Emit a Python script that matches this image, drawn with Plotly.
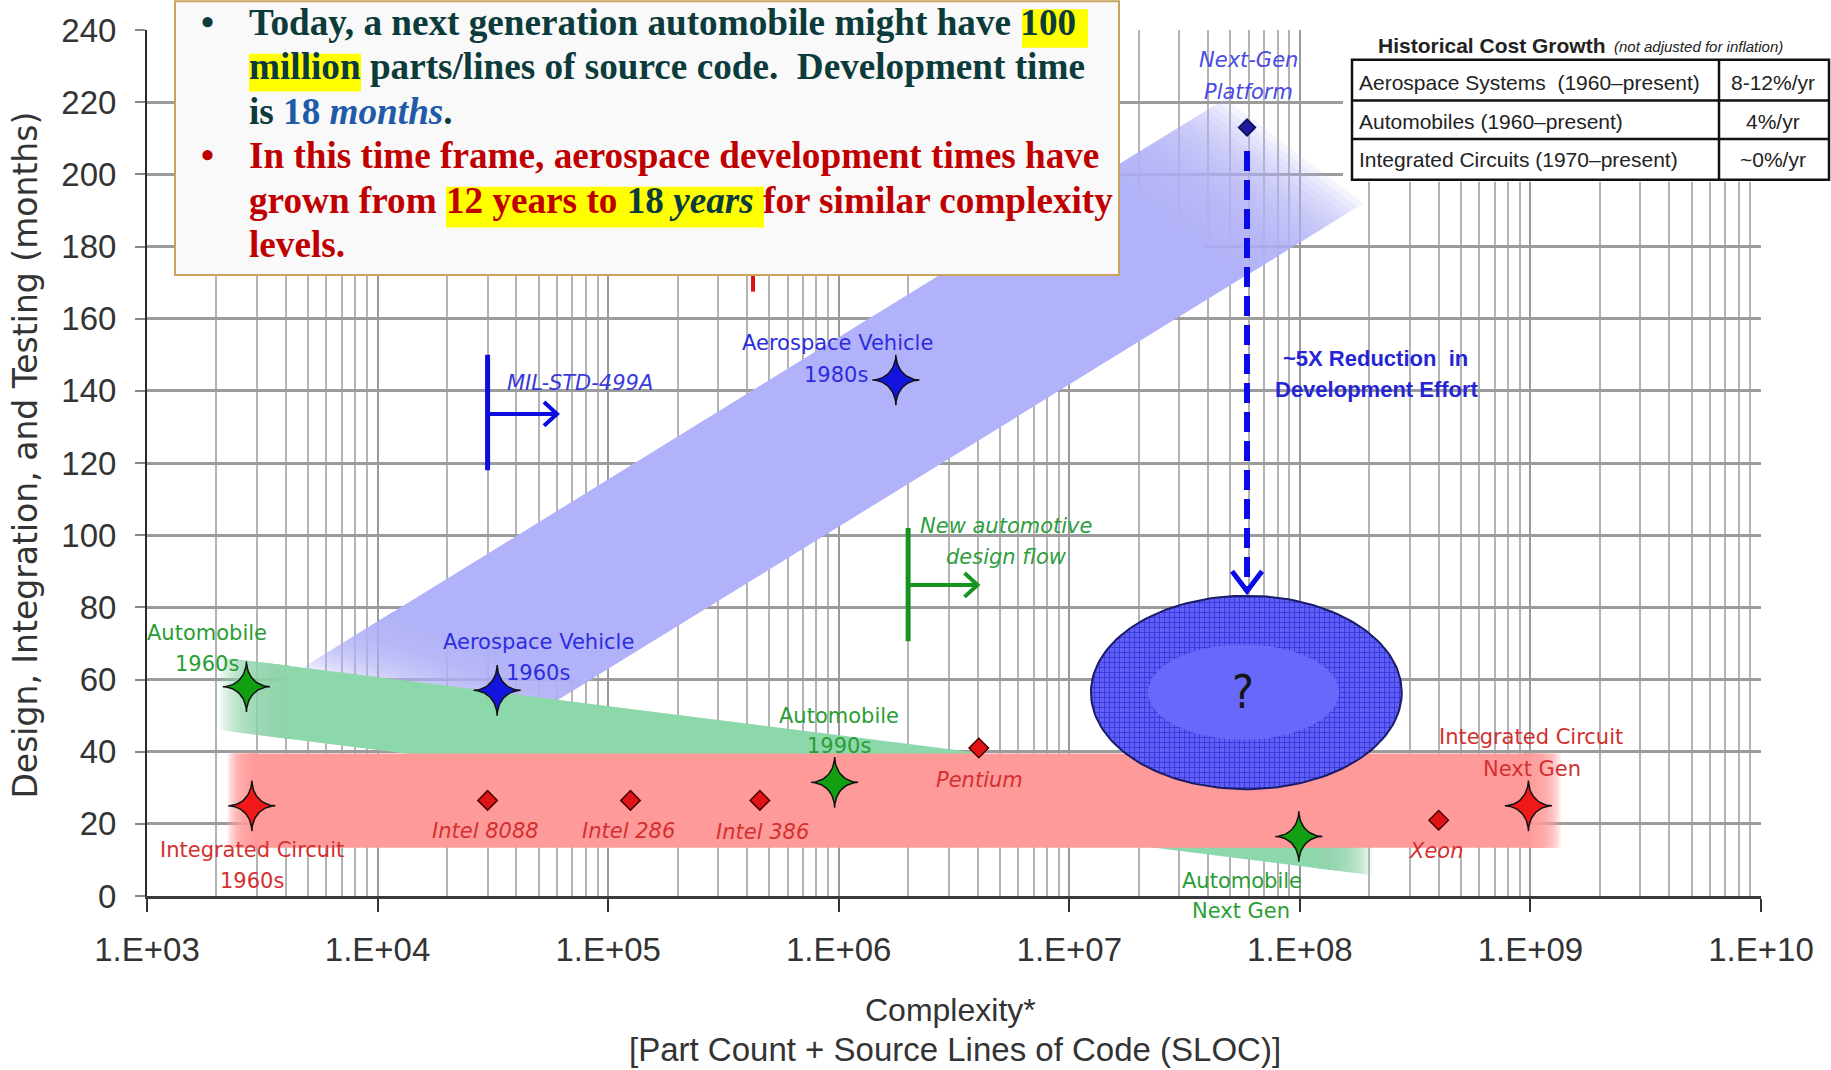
import numpy as np
import plotly.graph_objects as go

# ---------------- data ----------------
x_tick_vals = [1e3, 1e4, 1e5, 1e6, 1e7, 1e8, 1e9, 1e10]
x_tick_text = ["1.E+03", "1.E+04", "1.E+05", "1.E+06", "1.E+07", "1.E+08", "1.E+09", "1.E+10"]
y_tick_vals = [0, 20, 40, 60, 80, 100, 120, 140, 160, 180, 200, 220, 240]

auto_labels = [["Automobile", "1960s"], ["Automobile", "1990s"], ["Automobile", "Next Gen"]]
auto_complexity = [2.7e3, 9.6e5, 9.9e7]
auto_months = [58, 31.5, 16.5]

aero_labels = [["Aerospace Vehicle", "1960s"], ["Aerospace Vehicle", "1980s"]]
aero_complexity = [3.3e4, 1.77e6]
aero_months = [57, 143]

ic_labels = [["Integrated Circuit", "1960s"], ["Integrated Circuit", "Next Gen"]]
ic_complexity = [2.85e3, 9.8e8]
ic_months = [25, 25]

chip_labels = ["Intel 8088", "Intel 286", "Intel 386", "Pentium", "Xeon"]
chip_complexity = [3.0e4, 1.25e5, 4.55e5, 4.05e6, 4.0e8]
chip_months = [26.5, 26.5, 26.5, 41, 21]

platform_labels = [["Next-Gen", "Platform"]]
platform_complexity = [5.9e7]
platform_months = [213]

# trend bands: (complexity, months) at both ends of the upper and lower edges
aero_band_upper = [(4.4e3, 62), (5.06e7, 222)]
aero_band_lower = [(3.3e4, 44), (2.0e8, 193)]
auto_band_upper = [(2.0e3, 66.3), (2.12e8, 25.8)]
auto_band_lower = [(2.0e3, 46.1), (2.12e8, 5.7)]
ic_band_upper = [(2.2e3, 39.5), (1.38e9, 39.5)]
ic_band_lower = [(2.2e3, 13.4), (1.38e9, 13.4)]

# next-generation target region (center, half-width in decades, half-height in months)
target_center = (5.86e7, 56.4)
target_span = (0.674, 26.8)
target_core_center = (5.7e7, 56.5)
target_core_span = (0.414, 13.2)

# process milestones
mil_std_complexity = 3.0e4
mil_std_span = [118, 150]
mil_std_arrow_months = 133.6
mil_std_arrow_end = 6.0e4

auto_flow_complexity = 2.0e6
auto_flow_span = [70.6, 102]
auto_flow_arrow_months = 86.2
auto_flow_arrow_end = 4.0e6

reduction_complexity = 5.9e7
reduction_span = [206.5, 84.5]

legacy_marker_complexity = 4.25e5
legacy_marker_span = [167.5, 185]

table_rows = ["Aerospace Systems  (1960\u2013present)", "Automobiles (1960\u2013present)",
              "Integrated Circuits (1970\u2013present)"]
table_growth = ["8-12%/yr", "4%/yr", "~0%/yr"]

# ---------------- geometry helpers ----------------
W, H = 1831, 1070
M_L, M_R, M_T, M_B = 147, 70, 23, 174
PLOT_W = W - M_L - M_R
PLOT_H = H - M_T - M_B
X_RANGE = (3, 10)
Y_RANGE = (0, 240)
DEC_PER_PX = (X_RANGE[1] - X_RANGE[0]) / PLOT_W
MON_PER_PX = (Y_RANGE[1] - Y_RANGE[0]) / PLOT_H


def px_x(px):
    return (px - M_L) / PLOT_W


def px_y(py):
    return (M_T + PLOT_H - py) / PLOT_H


def shift(x, y, dx, dy):
    """Move a data point by screen pixels (dy positive = downwards)."""
    return x * 10 ** (dx * DEC_PER_PX), y - dy * MON_PER_PX


fig = go.Figure()


def edge_point(edge, t):
    (x0, y0), (x1, y1) = edge
    lx = np.log10(x0) + t * (np.log10(x1) - np.log10(x0))
    return 10 ** lx, y0 + t * (y1 - y0)


def band_piece(upper, lower, t0, t1, color):
    p = [edge_point(upper, t0), edge_point(upper, t1), edge_point(lower, t1), edge_point(lower, t0)]
    p.append(p[0])
    return go.Scatter(x=[q[0] for q in p], y=[q[1] for q in p], mode="lines", fill="toself",
                      fillcolor=color, line=dict(width=0), hoverinfo="skip", showlegend=False)


def add_band(upper, lower, rgb, fade_in, fade_out, layers=20, alpha=0.14):
    soft = "rgba(%d,%d,%d,%.3f)" % (rgb[0], rgb[1], rgb[2], alpha)
    for k in range(1, layers + 1):
        if fade_in > 0:
            fig.add_trace(band_piece(upper, lower, fade_in * k / (layers + 1), fade_in + 0.004, soft))
        if fade_out > 0:
            fig.add_trace(band_piece(upper, lower, 1 - fade_out - 0.004,
                                     1 - fade_out * k / (layers + 1), soft))
    fig.add_trace(band_piece(upper, lower, fade_in, 1 - fade_out, "rgb(%d,%d,%d)" % tuple(rgb)))


def ellipse_pts(center, span, n=180):
    th = np.linspace(0, 2 * np.pi, n)
    lx = np.log10(center[0]) + span[0] * np.cos(th)
    return 10 ** lx, center[1] + span[1] * np.sin(th)


def star_trace(xs, ys, fill, half_w=23.5, half_h=25.5, p=3.6):
    th = np.linspace(0, 2 * np.pi, 121)
    c, s = np.cos(th), np.sin(th)
    dx = half_w * np.sign(c) * np.abs(c) ** p
    dy = half_h * np.sign(s) * np.abs(s) ** p
    X, Y = [], []
    for x, y in zip(xs, ys):
        X += list(x * 10 ** (dx * DEC_PER_PX)) + [None]
        Y += list(y + dy * MON_PER_PX) + [None]
    return go.Scatter(x=X, y=Y, mode="lines", fill="toself", fillcolor=fill,
                      line=dict(color="#111111", width=1.5), hoverinfo="skip", showlegend=False)


def seg(xs, ys, color, width, dash=None):
    fig.add_trace(go.Scatter(x=xs, y=ys, mode="lines", hoverinfo="skip", showlegend=False,
                             line=dict(color=color, width=width, dash=dash)))


def chevron(tip_x, tip_y, direction, color, width, back=13, spread=12):
    if direction == "right":
        a = shift(tip_x, tip_y, -back, -spread)
        b = shift(tip_x, tip_y, -back, spread)
    else:  # pointing down
        a = shift(tip_x, tip_y, -spread, -back)
        b = shift(tip_x, tip_y, spread, -back)
    seg([a[0], tip_x, b[0]], [a[1], tip_y, b[1]], color, width)


# ---------------- bands ----------------
add_band(aero_band_upper, aero_band_lower, (178, 178, 250), 0.10, 0.14)
add_band(auto_band_upper, auto_band_lower, (140, 216, 170), 0.06, 0.05)
add_band(ic_band_upper, ic_band_lower, (255, 154, 154), 0.02, 0.025)

# ---------------- target region ----------------
ex, ey = ellipse_pts(target_center, target_span)
fig.add_trace(go.Scatter(
    x=ex, y=ey, mode="lines", fill="toself", fillcolor="rgb(84,84,240)",
    fillpattern=dict(shape="+", size=5, solidity=0.3, fgcolor="rgb(52,52,212)",
                     bgcolor="rgb(96,96,248)", fillmode="replace"),
    line=dict(color="#1b1b66", width=2), hoverinfo="skip", showlegend=False))
cx, cy = ellipse_pts(target_core_center, target_core_span)
fig.add_trace(go.Scatter(x=cx, y=cy, mode="lines", fill="toself", fillcolor="rgb(104,104,250)",
                         line=dict(width=0), hoverinfo="skip", showlegend=False))

# ---------------- milestones ----------------
BLUE_LINE = "#0c0cdc"
GREEN_LINE = "#16941f"
seg([mil_std_complexity] * 2, mil_std_span, BLUE_LINE, 5)
seg([mil_std_complexity, mil_std_arrow_end], [mil_std_arrow_months] * 2, BLUE_LINE, 4)
chevron(mil_std_arrow_end, mil_std_arrow_months, "right", BLUE_LINE, 4)

seg([auto_flow_complexity] * 2, auto_flow_span, GREEN_LINE, 5)
seg([auto_flow_complexity, auto_flow_arrow_end], [auto_flow_arrow_months] * 2, GREEN_LINE, 4)
chevron(auto_flow_arrow_end, auto_flow_arrow_months, "right", GREEN_LINE, 4)

seg([reduction_complexity] * 2, reduction_span, "#0a0ae6", 6, dash="20px,9px")
chevron(reduction_complexity, reduction_span[1], "down", "#0a0ae6", 5, back=20, spread=15)

seg([legacy_marker_complexity] * 2, legacy_marker_span, "#e01010", 4)

# ---------------- points ----------------
fig.add_trace(go.Scatter(x=chip_complexity, y=chip_months, mode="markers", hoverinfo="skip",
                         showlegend=False,
                         marker=dict(symbol="diamond", size=15, color="#e01414",
                                     line=dict(color="#4a0000", width=1.5))))
fig.add_trace(go.Scatter(x=platform_complexity, y=platform_months, mode="markers", hoverinfo="skip",
                         showlegend=False,
                         marker=dict(symbol="diamond", size=13, color="#1c1c9c",
                                     line=dict(color="#0a0a50", width=1.5))))
fig.add_trace(star_trace(auto_complexity, auto_months, "#12a012"))
fig.add_trace(star_trace(aero_complexity, aero_months, "#1414e0"))
fig.add_trace(star_trace(ic_complexity, ic_months, "#f01818"))

# ---------------- labels ----------------
LABEL_FONT = "DejaVu Sans"
GREEN_TXT = "#2a9d35"
BLUE_TXT = "#2c2ce0"
RED_TXT = "#d43030"

auto_label_offsets = [[(-39, -54), (-39, -23)], [(4, -66), (4, -36)], [(-57, 45), (-58, 75)]]
aero_label_offsets = [[(41, -48), (41, -17)], [(-58, -37), (-60, -5)]]
ic_label_offsets = [[(0, 44), (0, 75)], [(3, -69), (4, -37)]]
chip_label_offsets = [(-2, 31), (-2, 31), (3, 32), (1, 32), (-3, 31)]
platform_label_offsets = [[(1, -67), (1, -35)]]


def label(x, y, text, dx, dy, color, italic=False, size=21, bold=False, family=LABEL_FONT):
    t = text
    if italic:
        t = "<i>%s</i>" % t
    if bold:
        t = "<b>%s</b>" % t
    fig.add_annotation(x=np.log10(x), y=y, xref="x", yref="y", text=t, showarrow=False,
                       xshift=dx, yshift=-dy, xanchor="center", yanchor="middle",
                       font=dict(family=family, size=size, color=color))


def label_series(xs, ys, names, offsets, color, italic=False):
    for x, y, lines, offs in zip(xs, ys, names, offsets):
        for text, (dx, dy) in zip(lines, offs):
            label(x, y, text, dx, dy, color, italic)


label_series(auto_complexity, auto_months, auto_labels, auto_label_offsets, GREEN_TXT)
label_series(aero_complexity, aero_months, aero_labels, aero_label_offsets, BLUE_TXT)
label_series(ic_complexity, ic_months, ic_labels, ic_label_offsets, RED_TXT)
label_series(platform_complexity, platform_months, platform_labels, platform_label_offsets,
             "#4b4be6", italic=True)
for x, y, name, (dx, dy) in zip(chip_complexity, chip_months, chip_labels, chip_label_offsets):
    label(x, y, name, dx, dy, RED_TXT, italic=True)

label(mil_std_complexity, mil_std_span[1], "MIL-STD-499A", 92, 28, "#3a3ad8", italic=True)
label(auto_flow_complexity, auto_flow_span[1], "New automotive", 98, -2, "#2e9e3e", italic=True)
label(auto_flow_complexity, auto_flow_span[1], "design flow", 98, 29, "#2e9e3e", italic=True)
label(reduction_complexity, 149, "~5X Reduction  in", 128, 0, "#2525d5", bold=True, size=22,
      family="Liberation Sans")
label(reduction_complexity, 140.3, "Development Effort", 130, 0, "#2525d5", bold=True, size=22,
      family="Liberation Sans")
label(target_center[0], target_center[1], "?", -3, 0, "#151515", size=46,
      family="Liberation Sans Narrow, DejaVu Sans Condensed, Liberation Sans")


def paper_text(px, py, text, size, family="Liberation Sans", color="#333333", anchor="center",
               angle=0):
    fig.add_annotation(xref="paper", yref="paper", x=px_x(px), y=px_y(py), xanchor=anchor,
                       yanchor="middle", text=text, showarrow=False, textangle=angle,
                       font=dict(family=family, size=size, color=color))


# ---------------- axis titles ----------------
paper_text(26, 452, "Design, Integration, and Testing (months)", 33, family="DejaVu Sans",
           angle=-90)
paper_text(950, 1011, "Complexity*", 32)
paper_text(955, 1051, "[Part Count + Source Lines of Code (SLOC)]", 33)

# ---------------- call-out box ----------------
TEAL = "#0c3b3b"
BLUE_WORDS = "#1f5ba8"
DARK_RED = "#c00000"
shapes = [
    dict(type="rect", xref="paper", yref="paper", x0=px_x(175), x1=px_x(1119),
         y0=px_y(270), y1=px_y(-6), fillcolor="#f9f9f9", line=dict(color="#c9a45c", width=2),
         layer="above"),
]
for x0, x1, y0, y1 in [(1022, 1088, 2, 41), (249, 361, 47, 85), (446, 764, 181, 222)]:
    shapes.append(dict(type="rect", xref="paper", yref="paper", x0=px_x(x0), x1=px_x(x1),
                       y0=px_y(y1), y1=px_y(y0), fillcolor="#ffff00", line=dict(width=0),
                       layer="above"))

box_lines = [
    (15.6, TEAL, "Today, a next generation automobile might have 100"),
    (60.0, TEAL, "million parts/lines of source code.  Development time"),
    (104.9, TEAL, "is <span style='color:%s'>18 <i>months</i></span>." % BLUE_WORDS),
    (149.8, DARK_RED, "In this time frame, aerospace development times have"),
    (194.7, DARK_RED, "grown from 12 years to <span style='color:%s'>18 <i>years</i></span>"
                      " for similar complexity" % TEAL),
    (239.6, DARK_RED, "levels."),
]
for y, color, text in box_lines:
    paper_text(247, y, "<b>%s</b>" % text, 37.2, family="Liberation Serif, Times New Roman",
               color=color, anchor="left")
for y, color in [(15.6, TEAL), (149.8, DARK_RED)]:
    paper_text(207, y, "<b>\u2022</b>", 37.2, family="Liberation Serif", color=color)

# ---------------- cost growth table ----------------
shapes.append(dict(type="rect", xref="paper", yref="paper", x0=px_x(1343), x1=px_x(1840),
                   y0=px_y(176), y1=px_y(-5), fillcolor="white", line=dict(width=0), layer="above"))
shapes.append(dict(type="rect", xref="paper", yref="paper", x0=px_x(1352), x1=px_x(1829),
                   y0=px_y(174), y1=px_y(53), line=dict(color="#111111", width=2.5), layer="above"))
shapes.append(dict(type="line", xref="paper", yref="paper", x0=px_x(1719), x1=px_x(1719),
                   y0=px_y(174), y1=px_y(53), line=dict(color="#111111", width=2.5), layer="above"))
for ry in [94, 133]:
    shapes.append(dict(type="line", xref="paper", yref="paper", x0=px_x(1352), x1=px_x(1829),
                       y0=px_y(ry), y1=px_y(ry), line=dict(color="#111111", width=2.5),
                       layer="above"))
paper_text(1376, 39, "<b>Historical Cost Growth</b>", 21, color="#222222", anchor="left")
paper_text(1612, 40, "<i>(not adjusted for inflation)</i>", 15, color="#222222", anchor="left")
for ry, row, growth in zip([76, 115, 154], table_rows, table_growth):
    paper_text(1357, ry, row, 21, color="#222222", anchor="left")
    paper_text(1773, ry, growth, 21, color="#222222")

# ---------------- layout ----------------
fig.update_layout(
    width=W, height=H,
    margin=dict(l=M_L, r=M_R, t=M_T, b=M_B),
    paper_bgcolor="white", plot_bgcolor="white", showlegend=False,
    shapes=shapes,
    xaxis=dict(type="log", range=list(X_RANGE), tickmode="array", tickvals=x_tick_vals,
               ticktext=x_tick_text, showgrid=True, gridcolor="#9a9a9a", gridwidth=2,
               minor=dict(dtick="D1", showgrid=True, gridcolor="#b4b4b4", gridwidth=1.5, ticks=""),
               ticks="outside", ticklen=13, tickwidth=2, tickcolor="#333333",
               showline=True, linecolor="#3a3a3a", linewidth=2.5, zeroline=False,
               tickfont=dict(family="Liberation Sans, Arial", size=33, color="#333333"),
               ticklabelstandoff=10, fixedrange=True),
    yaxis=dict(range=list(Y_RANGE), tickmode="array", tickvals=y_tick_vals,
               showgrid=True, gridcolor="#9c9c9c", gridwidth=3,
               ticks="outside", ticklen=10, tickwidth=2, tickcolor="#888888",
               showline=True, linecolor="#2a2a2a", linewidth=2, zeroline=False,
               tickfont=dict(family="Liberation Sans, Arial", size=33, color="#333333"),
               ticklabelstandoff=12, fixedrange=True),
)

fig.write_html("out.html")
